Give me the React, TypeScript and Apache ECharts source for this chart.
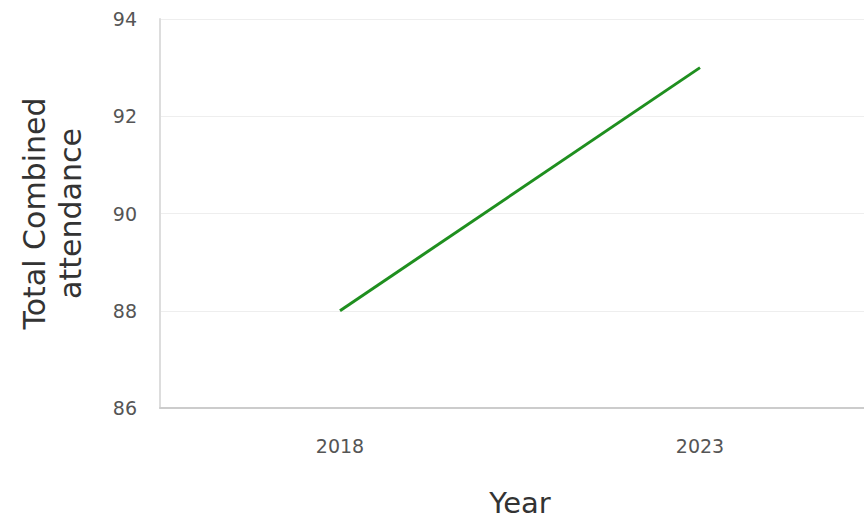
import React, { useEffect, useRef } from "react";
import * as echarts from "echarts";

const years = ["2018", "2023"];
const attendance = [88, 93];
const yTicks = { min: 86, max: 94, interval: 2 };

export default function App() {
  const ref = useRef<HTMLDivElement>(null);
  useEffect(() => {
    if (!ref.current) return;
    const chart = echarts.init(ref.current, undefined, { renderer: "svg" });
    const font = "DejaVu Sans";
    chart.setOption({
      animation: false,
      backgroundColor: "#ffffff",
      grid: { left: 160, top: 19, bottom: 110, width: 720, outerBoundsMode: "none", containLabel: false },
      xAxis: {
        type: "category",
        data: years,
        boundaryGap: true,
        name: "Year",
        nameLocation: "middle",
        nameGap: 80,
        nameTextStyle: { fontFamily: font, fontSize: 29, color: "#333333" },
        axisLine: { show: true, lineStyle: { color: "#cccccc", width: 2 } },
        axisTick: { show: false },
        axisLabel: { fontFamily: font, fontSize: 19, color: "#555555", margin: 28 },
        splitLine: { show: false },
      },
      yAxis: {
        type: "value",
        min: yTicks.min,
        max: yTicks.max,
        interval: yTicks.interval,
        name: "Total Combined\nattendance",
        nameLocation: "middle",
        nameGap: 72,
        nameRotate: 90,
        nameTextStyle: { fontFamily: font, fontSize: 30, color: "#333333", lineHeight: 36 },
        axisLine: { show: true, lineStyle: { color: "#dddddd", width: 2 } },
        axisTick: { show: false },
        axisLabel: { fontFamily: font, fontSize: 19, color: "#555555", margin: 23 },
        splitLine: { show: true, lineStyle: { color: "#eeeeee", width: 1 } },
      },
      series: [
        {
          type: "line",
          data: attendance,
          symbol: "none",
          lineStyle: { color: "#1f8f1f", width: 3 },
        },
      ],
    });
    return () => chart.dispose();
  }, []);
  return (
    <div
      ref={ref}
      style={{ position: "fixed", left: 0, top: 0, width: 864, height: 518 }}
    />
  );
}
